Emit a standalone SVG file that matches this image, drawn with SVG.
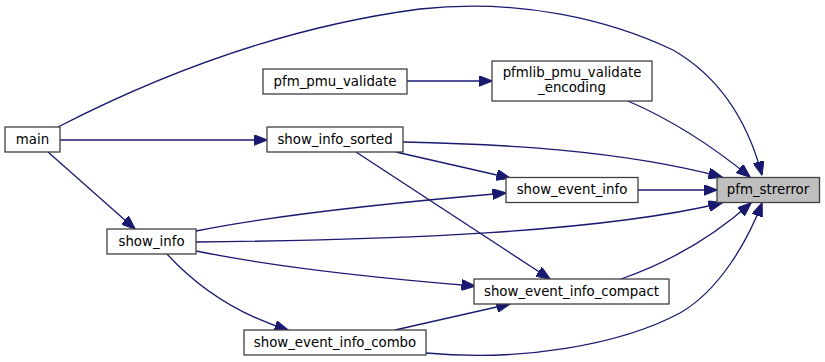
<svg xmlns="http://www.w3.org/2000/svg" width="825" height="362" viewBox="0 0 825 362">
  <style>
    .node rect { fill: #ffffff; stroke: #404040; stroke-width: 1.3; }
    .node.current rect { fill: #bfbfbf; }
    .node text { font-family: "DejaVu Sans", sans-serif; font-size: 13.33px; fill: #000000; text-anchor: middle; }
    .edge { fill: none; stroke: #191970; stroke-width: 1.3; marker-end: url(#arrow); }
  </style>
  <defs>
    <marker id="arrow" viewBox="0 0 14 11" refX="13.5" refY="5.5" markerWidth="14" markerHeight="11" markerUnits="userSpaceOnUse" orient="auto">
      <path d="M0,0 L14,5.5 L0,11 Z" fill="#191970" stroke="#191970" stroke-width="1"/>
    </marker>
  </defs>

  <rect width="825" height="362" fill="#ffffff"/>

  <g id="edges">
    <!-- main -> pfm_strerror -->
    <path class="edge" d="M58,127 C130,90 260,30 420,9 C520,-2 610,20 673,50 C725,80 750,130 762,175"/>
    <!-- main -> show_info_sorted -->
    <path class="edge" d="M60,140 L267,140"/>
    <!-- main -> show_info -->
    <path class="edge" d="M48,152 L135,229"/>
    <!-- pfm_pmu_validate -> pfmlib_pmu_validate_encoding -->
    <path class="edge" d="M407,81 L492,81"/>
    <!-- pfmlib_pmu_validate_encoding -> pfm_strerror -->
    <path class="edge" d="M628,101 C665,117 705,140 750,177"/>
    <!-- show_info_sorted -> pfm_strerror -->
    <path class="edge" d="M403,142 C500,144 620,150 722,177"/>
    <!-- show_info_sorted -> show_event_info -->
    <path class="edge" d="M396,152 L510,178"/>
    <!-- show_info_sorted -> show_event_info_compact -->
    <path class="edge" d="M356,152 L550,279"/>
    <!-- show_event_info -> pfm_strerror -->
    <path class="edge" d="M638,190 L717,190"/>
    <!-- show_info -> show_event_info -->
    <path class="edge" d="M196,231 C280,214 400,202 506,193"/>
    <!-- show_info -> pfm_strerror -->
    <path class="edge" d="M196,242 C400,240 600,232 722,203"/>
    <!-- show_info -> show_event_info_compact -->
    <path class="edge" d="M196,251 C280,268 400,280 475,286"/>
    <!-- show_info -> show_event_info_combo -->
    <path class="edge" d="M167,254 C200,290 240,315 288,330"/>
    <!-- show_event_info_compact -> pfm_strerror -->
    <path class="edge" d="M621,279 C670,262 715,235 751,203"/>
    <!-- show_event_info_combo -> show_event_info_compact -->
    <path class="edge" d="M395,330 L510,304"/>
    <!-- show_event_info_combo -> pfm_strerror -->
    <path class="edge" d="M426,353 C520,362 620,345 680,313 C720,290 748,240 762,203"/>
  </g>

  <g id="node-main" class="node">
    <rect x="5" y="127" width="55" height="25"/>
    <text x="32.5" y="144">main</text>
  </g>
  <g id="node-pfm_pmu_validate" class="node">
    <rect x="263" y="69" width="144" height="25"/>
    <text x="335" y="86">pfm_pmu_validate</text>
  </g>
  <g id="node-pfmlib_pmu_validate_encoding" class="node">
    <rect x="492" y="61" width="160" height="40"/>
    <text x="572" y="77">pfmlib_pmu_validate</text>
    <text x="572" y="92">_encoding</text>
  </g>
  <g id="node-show_info_sorted" class="node">
    <rect x="267" y="127" width="136" height="25"/>
    <text x="335" y="144">show_info_sorted</text>
  </g>
  <g id="node-pfm_strerror" class="node current">
    <rect x="717" y="177.5" width="102.5" height="25"/>
    <text x="768" y="194">pfm_strerror</text>
  </g>
  <g id="node-show_event_info" class="node">
    <rect x="506" y="177.5" width="132" height="25"/>
    <text x="572" y="194">show_event_info</text>
  </g>
  <g id="node-show_info" class="node">
    <rect x="107" y="229" width="89" height="25"/>
    <text x="151.5" y="246">show_info</text>
  </g>
  <g id="node-show_event_info_compact" class="node">
    <rect x="474" y="279" width="195" height="25"/>
    <text x="571.5" y="296">show_event_info_compact</text>
  </g>
  <g id="node-show_event_info_combo" class="node">
    <rect x="244" y="330" width="182" height="25"/>
    <text x="335" y="347">show_event_info_combo</text>
  </g>
</svg>
